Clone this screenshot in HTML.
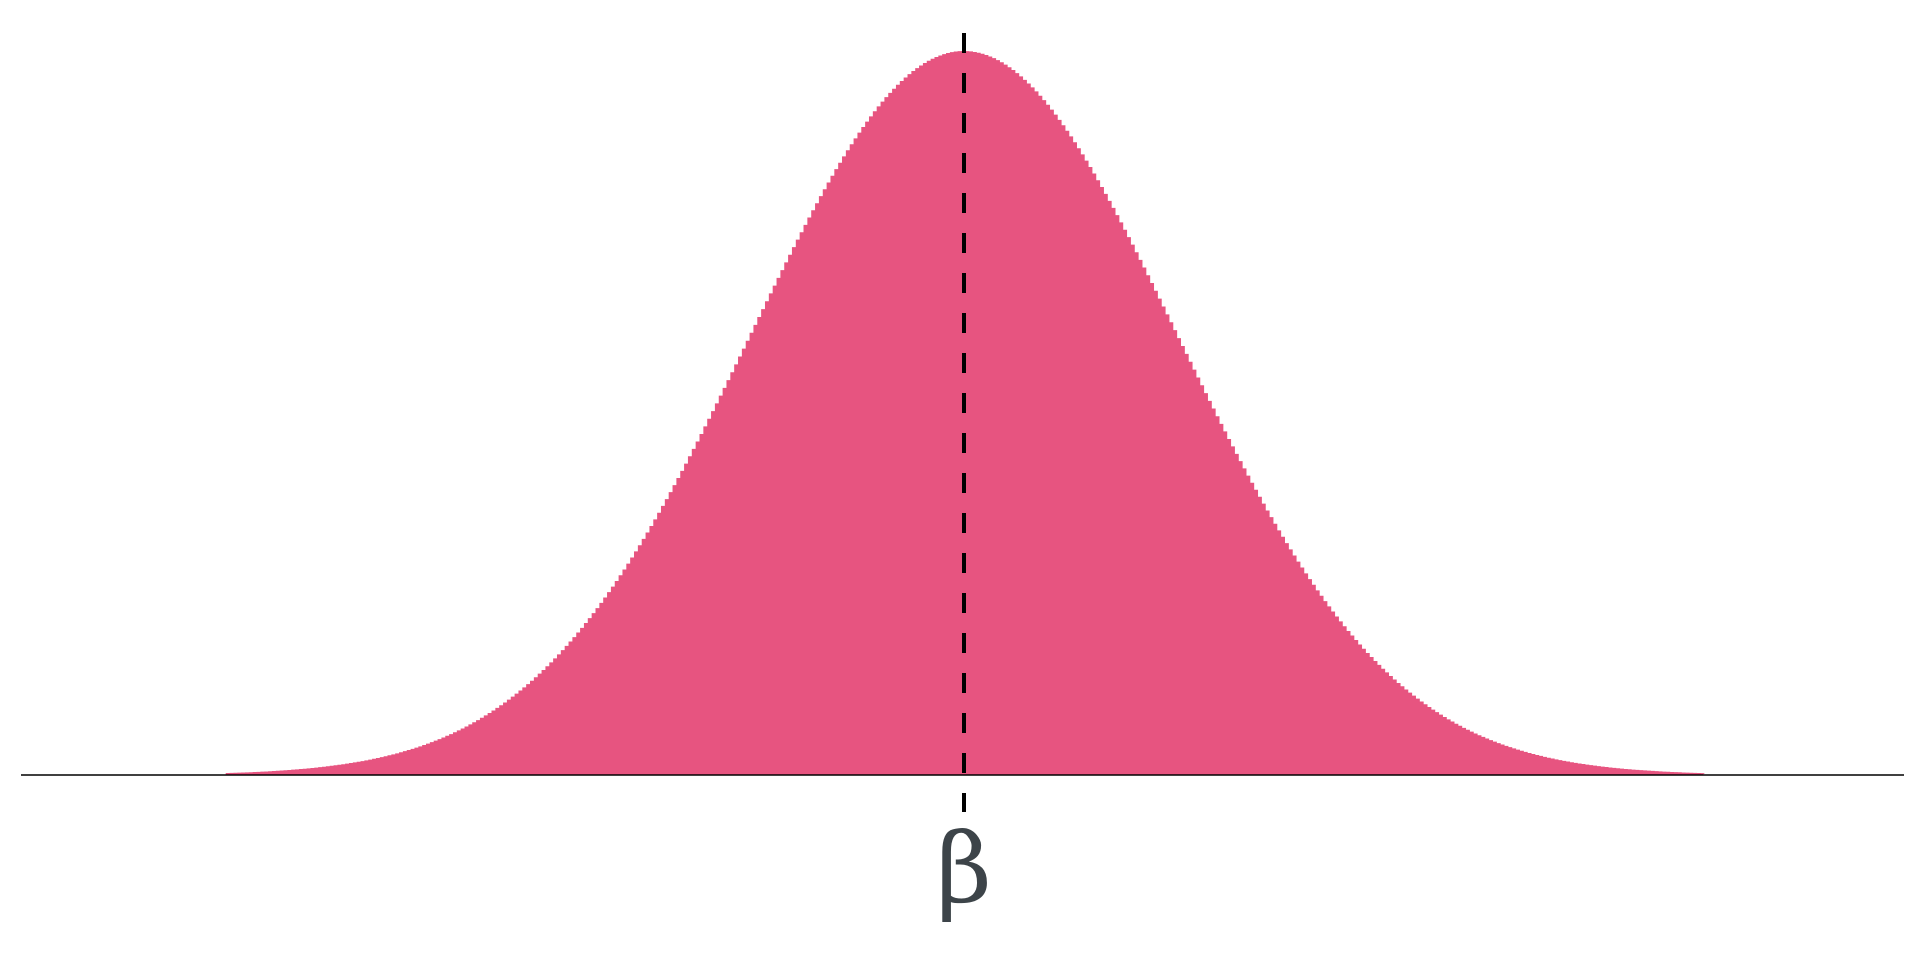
<!DOCTYPE html>
<html><head><meta charset="utf-8"><style>
html,body{margin:0;padding:0;background:#fff;width:1920px;height:960px;overflow:hidden}
svg{display:block}
</style></head><body>
<svg id="chart" width="1920" height="960">
<g id="marks"></g>
<line x1="21" x2="1904" y1="775" y2="775" stroke="#000" stroke-width="1.5"/>
<line id="meanline" x1="964" x2="964" y1="33" y2="812" stroke="#000" stroke-width="4" stroke-dasharray="20,20"/>
<text x="964" y="902" text-anchor="middle" font-family="'DejaVu Serif','Liberation Serif',serif" font-size="96" fill="#3d4449">β</text>
</svg>
<script>
const distMean = [0];
const distSd = [1];
const xDomain = [-3.45, 3.45];
const unitPx = 214;
const xRange = [964 - 3.45*unitPx, 964 + 3.45*unitPx];
const baseY = 775, peakY = 51;
function xs(v){return xRange[0]+(v-xDomain[0])/(xDomain[1]-xDomain[0])*(xRange[1]-xRange[0]);}
function pdf(v){const z=(v-distMean[0])/distSd[0];return Math.exp(-0.5*z*z);}
function ys(d){return baseY-d*(baseY-peakY);}
const g=document.getElementById('marks');
const step=0.018;
let d='M'+xs(xDomain[0])+','+baseY;
for(let v=xDomain[0];v<=xDomain[1]+1e-9;v+=step){
  const y=ys(pdf(v+step/2));
  d+=' L'+xs(v)+','+y+' L'+xs(v+step)+','+y;
}
d+=' L'+xs(xDomain[1])+','+baseY+' Z';
const p=document.createElementNS('http://www.w3.org/2000/svg','path');
p.setAttribute('d',d);p.setAttribute('fill','#e75480');


g.appendChild(p);
const m=document.getElementById('meanline');
m.setAttribute('x1',xs(distMean[0]));m.setAttribute('x2',xs(distMean[0]));
</script>
</body></html>
